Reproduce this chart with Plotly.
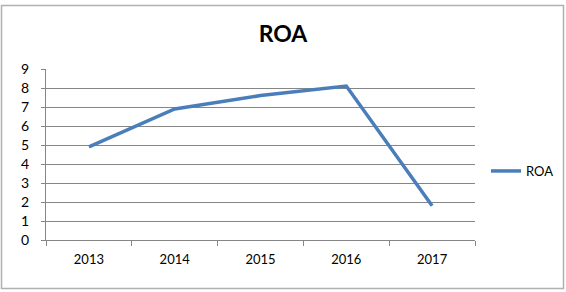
import plotly.graph_objects as go

years = ["2013", "2014", "2015", "2016", "2017"]
roa = [4.9, 6.9, 7.6, 8.1, 1.8]
series_name = "ROA"
y_ticks = [0, 1, 2, 3, 4, 5, 6, 7, 8, 9]

W, H = 566, 292
L, R, T, B = 46, 91, 69, 52
pw, ph = W - L - R, H - T - B

def px_to_paper_x(x):
    return (x - L) / pw

def px_to_paper_y(y):
    return (H - B - y) / ph

fig = go.Figure()
fig.add_trace(go.Scatter(
    x=years, y=roa, mode="lines", name=series_name,
    line=dict(color="#4A7EBB", width=3.5),
))

fig.update_layout(
    width=W, height=H,
    margin=dict(l=L, r=R, t=T, b=B, autoexpand=False),
    paper_bgcolor="white", plot_bgcolor="white",
    font=dict(family="Lato, Calibri, sans-serif", size=13, color="#000000"),
    title=dict(text="<b>ROA</b>", x=px_to_paper_x(283), xref="paper", xanchor="center",
               y=1 - 34 / H, yanchor="middle", yref="container",
               font=dict(size=23, family="Lato, Calibri, sans-serif", color="#000")),
    showlegend=True,
    legend=dict(x=px_to_paper_x(486), y=px_to_paper_y(171), xanchor="left", yanchor="middle",
                xref="paper", yref="paper", font=dict(size=13), itemwidth=30,
                bgcolor="rgba(0,0,0,0)"),
    xaxis=dict(type="category", range=[-0.5, 4.5], tickson="boundaries",
               ticks="outside", ticklen=5, tickcolor="#868686", showline=True,
               linecolor="#868686", linewidth=1, showgrid=False, tickfont=dict(size=13),
               ticklabelstandoff=7, fixedrange=True),
    yaxis=dict(range=[0, 9], tickvals=y_ticks, ticks="outside", ticklen=4,
               tickcolor="#868686", showline=True, linecolor="#868686", linewidth=1,
               showgrid=True, gridcolor="#868686", gridwidth=1, zeroline=False,
               tickfont=dict(size=14), ticklabelstandoff=9, fixedrange=True),
    shapes=[dict(type="rect", xref="paper", yref="paper",
                 x0=px_to_paper_x(1.5), x1=px_to_paper_x(563.5),
                 y0=px_to_paper_y(288.5), y1=px_to_paper_y(5.5),
                 line=dict(color="#B0B0B0", width=1.5), fillcolor="rgba(0,0,0,0)",
                 layer="below")],
)

fig.write_html("out.html")
